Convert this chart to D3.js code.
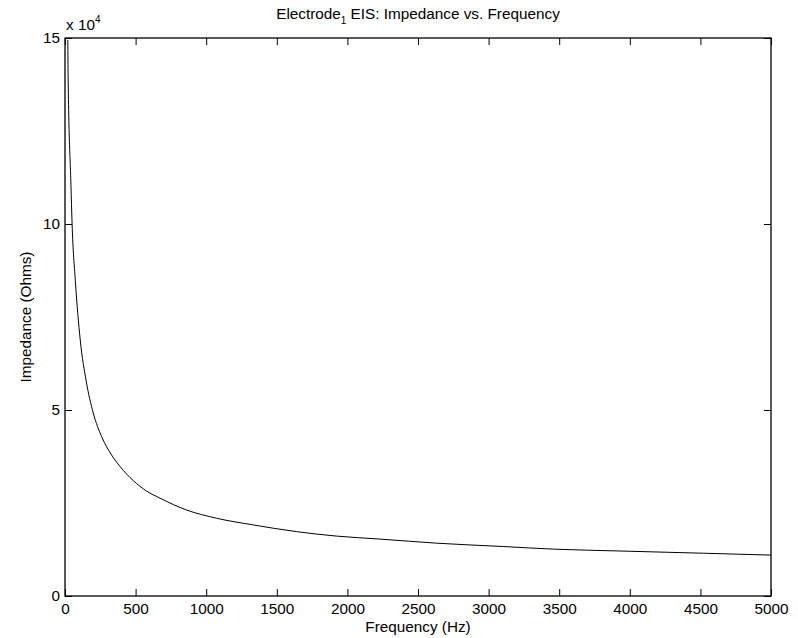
<!DOCTYPE html>
<html>
<head>
<meta charset="utf-8">
<script src="https://cdn.jsdelivr.net/npm/d3@7"></script>
<style>
  body { margin: 0; background: #fff; }
  text { font-family: "Liberation Sans", Arial, sans-serif; fill: #000; }
</style>
</head>
<body>
<div id="chart"></div>
<script>
// Data
const frequency = [20, 22, 42, 50, 73, 108, 150, 200, 260, 330, 390, 484, 578, 673, 862, 1074, 1334, 1641, 1924, 2231, 2632, 3104, 3458, 3930, 4521, 5000];
const impedance = [149500, 140000, 110700, 100300, 84900, 68800, 57800, 49200, 42800, 37900, 34800, 31000, 28200, 26300, 23100, 20900, 19100, 17300, 16100, 15300, 14200, 13300, 12600, 12100, 11500, 11000];
const xTicks = [0, 500, 1000, 1500, 2000, 2500, 3000, 3500, 4000, 4500, 5000];
const yTicks = [0, 50000, 100000, 150000];

const W = 798, H = 638;
const margin = { top: 38, right: 27, bottom: 42, left: 65 };
const width = W - margin.left - margin.right;
const height = H - margin.top - margin.bottom;
const fontSize = 15.3;
const tickLen = 7;

const svg = d3.select("#chart").append("svg")
    .attr("width", W)
    .attr("height", H);

const g = svg.append("g")
    .attr("transform", `translate(${margin.left}, ${margin.top})`);

const x = d3.scaleLinear().domain([0, 5000]).range([0, width]);
const y = d3.scaleLinear().domain([0, 150000]).range([height, 0]);

// Clip so the curve stays in the box
g.append("clipPath").attr("id", "clip")
    .append("rect").attr("width", width).attr("height", height);

// Curve
const points = frequency.map((f, i) => ({ f, z: impedance[i] }));
g.append("path")
    .datum(points)
    .attr("clip-path", "url(#clip)")
    .attr("fill", "none")
    .attr("stroke", "#000")
    .attr("stroke-width", 1)
    .attr("d", d3.line().curve(d3.curveMonotoneX).x(d => x(d.f)).y(d => y(d.z)));

// Axes: ticks pointing inward, on all four sides
const styleAxis = sel => {
    sel.selectAll(".domain").remove();
    sel.selectAll(".tick line").attr("stroke", "#000");
    sel.selectAll("text")
        .style("font-size", fontSize + "px")
        .attr("fill", "#000");
};

g.append("g")
    .attr("transform", `translate(0, ${height})`)
    .call(d3.axisBottom(x).tickValues(xTicks).tickSizeInner(-tickLen).tickSizeOuter(0).tickPadding(7).tickFormat(d3.format("d")))
    .call(styleAxis);

g.append("g")
    .call(d3.axisTop(x).tickValues(xTicks).tickSizeInner(-tickLen).tickSizeOuter(0).tickFormat(""))
    .call(styleAxis);

g.append("g")
    .call(d3.axisLeft(y).tickValues(yTicks).tickSizeInner(-tickLen).tickSizeOuter(0).tickPadding(5).tickFormat(d => d / 1e4))
    .call(styleAxis);

g.append("g")
    .attr("transform", `translate(${width}, 0)`)
    .call(d3.axisRight(y).tickValues(yTicks).tickSizeInner(-tickLen).tickSizeOuter(0).tickFormat(""))
    .call(styleAxis);

// Box
g.append("rect")
    .attr("width", width)
    .attr("height", height)
    .attr("fill", "none")
    .attr("stroke", "#000")
    .attr("stroke-width", 1.3);

// Exponent label
const expo = g.append("text")
    .attr("x", 1)
    .attr("y", -8)
    .style("font-size", fontSize + "px");
expo.append("tspan").text("x 10");
expo.append("tspan").attr("dy", -7).style("font-size", "10px").text("4");

// Title
const title = svg.append("text")
    .attr("x", margin.left + width / 2)
    .attr("y", 19)
    .attr("text-anchor", "middle")
    .style("font-size", fontSize + "px");
title.append("tspan").text("Electrode");
title.append("tspan").attr("dy", 5).style("font-size", "10px").text("1");
title.append("tspan").attr("dy", -5).text(" EIS: Impedance vs. Frequency");

// Axis labels
svg.append("text")
    .attr("x", margin.left + width / 2)
    .attr("y", 632)
    .attr("text-anchor", "middle")
    .style("font-size", fontSize + "px")
    .text("Frequency (Hz)");

svg.append("text")
    .attr("transform", `translate(31, ${margin.top + height / 2}) rotate(-90)`)
    .attr("text-anchor", "middle")
    .style("font-size", fontSize + "px")
    .text("Impedance (Ohms)");
</script>
</body>
</html>
